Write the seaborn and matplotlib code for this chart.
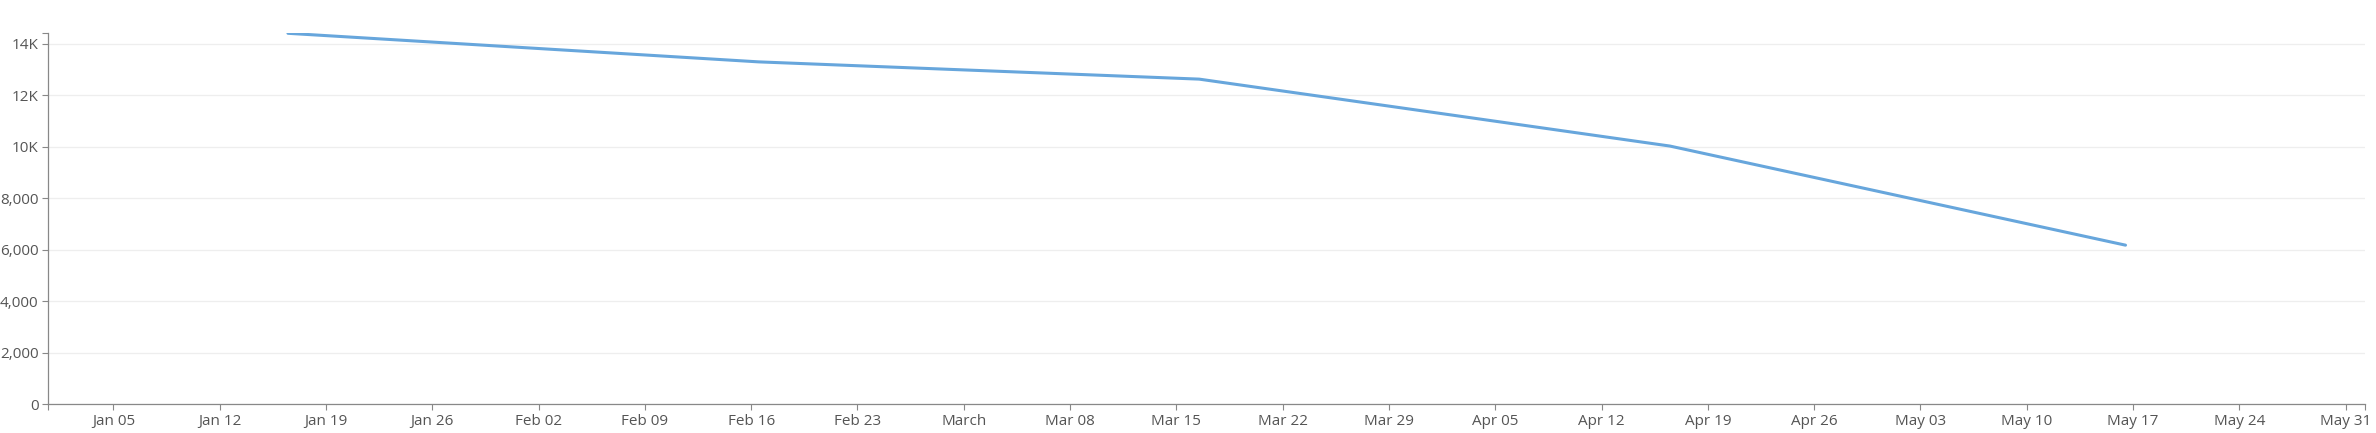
import matplotlib
matplotlib.use("Agg")
import matplotlib.pyplot as plt
import matplotlib.dates as mdates
from matplotlib.ticker import FuncFormatter, FixedLocator
import seaborn as sns
import pandas as pd
import numpy as np

# ---- data ----
dates = ["2020-01-16", "2020-02-16", "2020-03-16", "2020-04-16", "2020-05-16"]
values = [14400, 13290, 12620, 10020, 6170]
y_ticks = [0, 2000, 4000, 6000, 8000, 10000, 12000, 14000]
x_tick_dates = pd.date_range("2020-01-05", "2020-05-31", freq="7D")

df = pd.DataFrame({"date": pd.to_datetime(dates) + pd.Timedelta(hours=12),
                   "value": values})

sns.set_style("white")
plt.rcParams["font.family"] = ["Open Sans", "DejaVu Sans"]

W, H = 2376, 433
fig = plt.figure(figsize=(W / 100, H / 100), dpi=100)
ax = fig.add_axes([48.3 / W, 1 - 404 / H, (2365 - 48.3) / W, (404 - 33.3) / H])

sns.lineplot(data=df, x="date", y="value", ax=ax, color="#67a6dc",
             linewidth=2.2, zorder=3)

ax.set_xlim(pd.Timestamp("2019-12-31 17:15"), pd.Timestamp("2020-06-01 06:30"))
ax.set_ylim(0, max(values))

ax.set_xlabel("")
ax.set_ylabel("")

# y ticks
ax.yaxis.set_major_locator(FixedLocator(y_ticks))
def yfmt(v, pos):
    if v >= 10000:
        return f"{int(v / 1000)}K"
    return f"{int(v):,}"
ax.yaxis.set_major_formatter(FuncFormatter(yfmt))

# x ticks
ax.xaxis.set_major_locator(FixedLocator(mdates.date2num(x_tick_dates)))
def xfmt(v, pos):
    d = mdates.num2date(v)
    if d.day == 1:
        return d.strftime("%B")
    return d.strftime("%b %d")
ax.xaxis.set_major_formatter(FuncFormatter(xfmt))

# outer domain ticks
ax.yaxis.set_minor_locator(FixedLocator([max(values)]))
xl = ax.get_xlim()
ax.xaxis.set_minor_locator(FixedLocator([xl[0], xl[1]]))

ax.grid(axis="y", color="#eeeeee", linewidth=0.9, zorder=0)
ax.grid(axis="x", visible=False)
ax.set_axisbelow(True)

for s in ["top", "right"]:
    ax.spines[s].set_visible(False)
for s in ["left", "bottom"]:
    ax.spines[s].set_color("#888888")
    ax.spines[s].set_linewidth(0.9)

ax.tick_params(axis="both", which="both", direction="out", length=4.5,
               width=0.8, color="#888888", labelcolor="#555555",
               labelsize=11, pad=2.5, bottom=True, left=True,
               top=False, right=False)
ax.tick_params(axis="x", which="major", pad=3)

fig.savefig("out.png", dpi=100, facecolor="white")
